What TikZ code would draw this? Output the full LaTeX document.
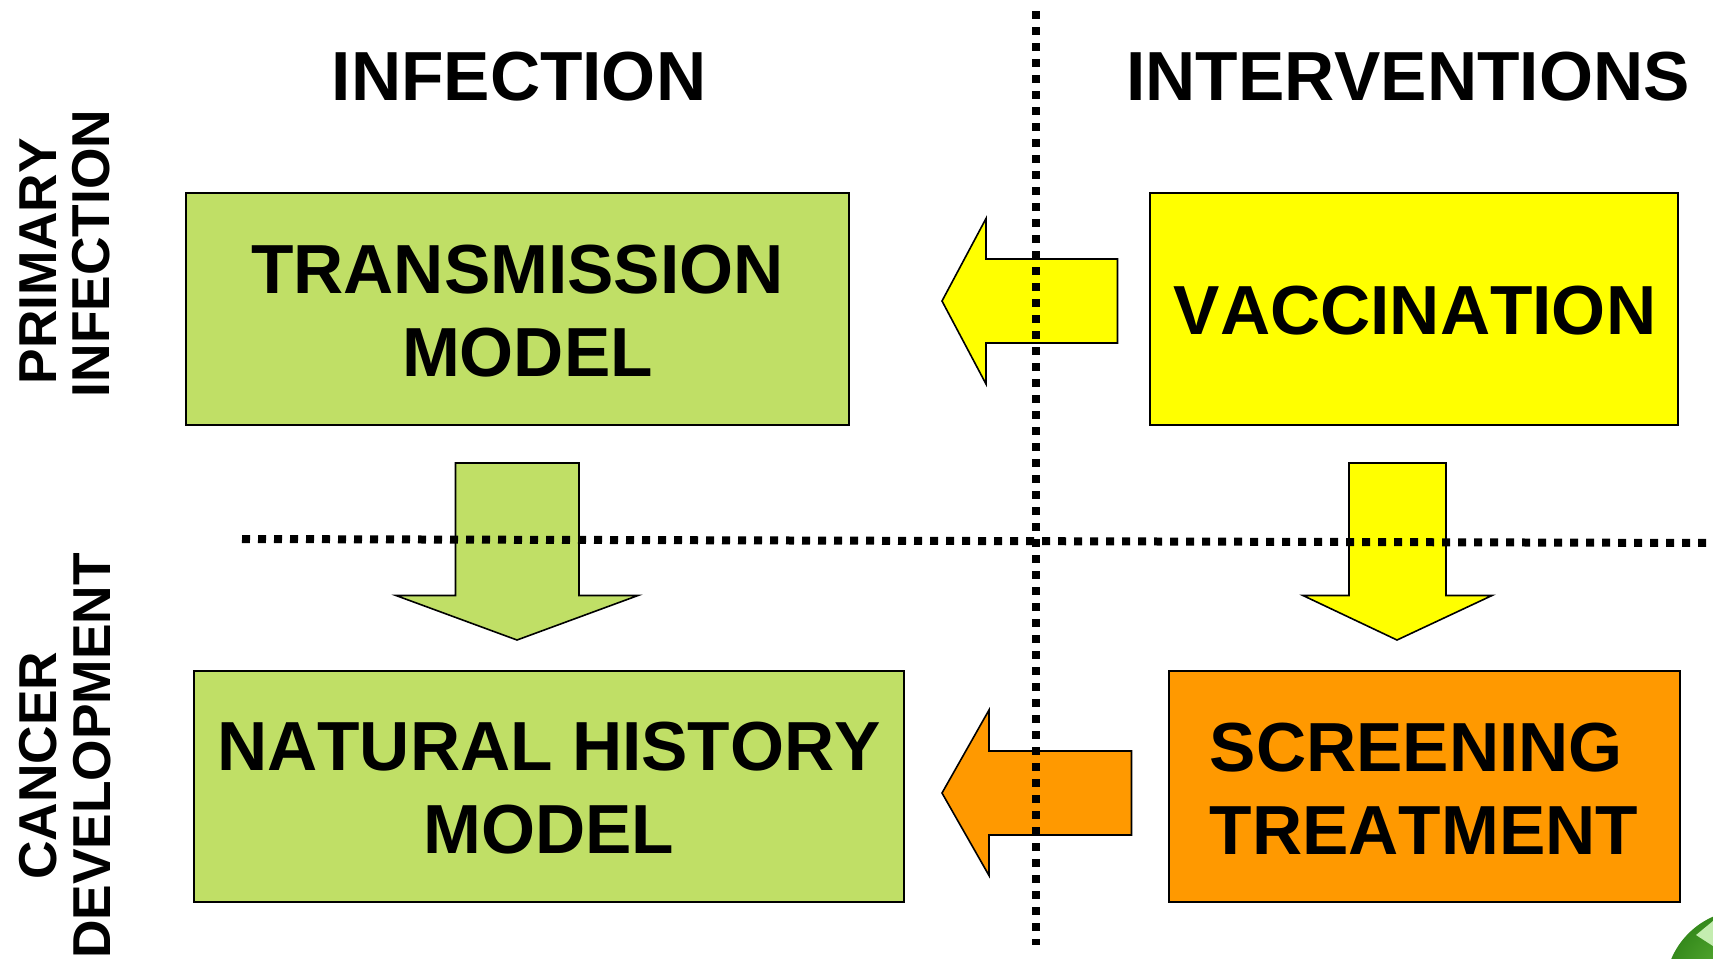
\documentclass[tikz,border=0pt]{standalone}
\usepackage{fontspec}
\setmainfont[Kerning=Off]{Liberation Sans}
\definecolor{leaf}{HTML}{C0DF66}
\definecolor{sun}{HTML}{FFFF00}
\definecolor{amber}{HTML}{FF9900}
\definecolor{logoA}{HTML}{6CC040}
\definecolor{logoB}{HTML}{358A1C}
\definecolor{logoC}{HTML}{C4EDB0}
\newcommand{\bigtxt}{\fontsize{52.1pt}{62.3pt}\selectfont\bfseries}
\newcommand{\sidetxt}{\fontsize{40pt}{40pt}\selectfont\bfseries}
\tikzset{
  boxed/.style={draw=black,line width=1.5pt,inner sep=0pt,anchor=north west,align=center},
  blockarrow/.style={draw=black,line width=1.2pt,line join=miter},
  dotline/.style={line width=6pt,dash pattern=on 6pt off 6pt,black},
  head/.style={inner sep=0pt,font=\bigtxt},
  side/.style={inner sep=0pt,rotate=90,font=\sidetxt,align=center},
}
\begin{document}
\begin{tikzpicture}[x=0.75pt,y=-0.75pt]
\useasboundingbox (0,0) rectangle (1713,958);
\clip (0,0) rectangle (1713,958);
% corner logo
\shade[inner color=logoA,outer color=logoB] (1745,990) circle (80);
\fill[logoC] (1696,935) -- (1713,921) -- (1713,946) -- cycle;
% boxes
\node[boxed,fill=leaf,minimum width=663pt*0.75,minimum height=232pt*0.75] (trans) at (185,192) {};
\node[boxed,fill=sun,minimum width=528pt*0.75,minimum height=232pt*0.75] (vacc) at (1149,192) {};
\node[boxed,fill=leaf,minimum width=710pt*0.75,minimum height=231pt*0.75] (nat) at (192.5,670) {};
\node[boxed,fill=amber,minimum width=511pt*0.75,minimum height=231pt*0.75] (scr) at (1168,670) {};
% box labels
\node[inner sep=0pt,font=\bigtxt,align=center] (transt) at (517.5,311.5) {TRANSMISSION\\\hspace*{15pt}MODEL};
\node[inner sep=0pt,font=\bigtxt] (vacct) at (1415,311) {VACCINATION};
\node[inner sep=0pt,font=\bigtxt,align=center] (natt) at (549,788) {NATURAL HISTORY\\MODEL};
\node[inner sep=0pt,font=\bigtxt,align=left] (scrt) at (1424,789) {SCREENING\\TREATMENT};
% headers
\node[head] (inf) at (519,77) {INFECTION};
\node[head] (int) at (1408,77) {INTERVENTIONS};
\node[side] (prim) at (65,253.5) {PRIMARY\hspace*{11.5pt}\\INFECTION};
\node[side] (canc) at (65,756) {CANCER\hspace*{14.7pt}\\DEVELOPMENT};
% block arrows
\draw[blockarrow,fill=sun] (942,301) -- (986,218.5) -- (986,259) -- (1117.5,259) -- (1117.5,343) -- (986,343) -- (986,384) -- cycle;
\draw[blockarrow,fill=amber] (942,793) -- (989,710) -- (989,751) -- (1131.5,751) -- (1131.5,835) -- (989,835) -- (989,875.5) -- cycle;
\draw[blockarrow,fill=leaf] (455.5,463) -- (579,463) -- (579,595.5) -- (638,595.5) -- (517,640) -- (396,595.5) -- (455.5,595.5) -- cycle;
\draw[blockarrow,fill=sun] (1349,463) -- (1446,463) -- (1446,595.5) -- (1492,595.5) -- (1397,640) -- (1303,595.5) -- (1349,595.5) -- cycle;
% dotted rules
\coordinate (vtop) at (1036,11);
\coordinate (vbot) at (1036,945);
\coordinate (hleft) at (242,539);
\coordinate (hright) at (1713,543);
\draw[dotline] (hleft) -- (hright);
\draw[dotline] (vtop) -- (vbot);
\end{tikzpicture}
\end{document}
